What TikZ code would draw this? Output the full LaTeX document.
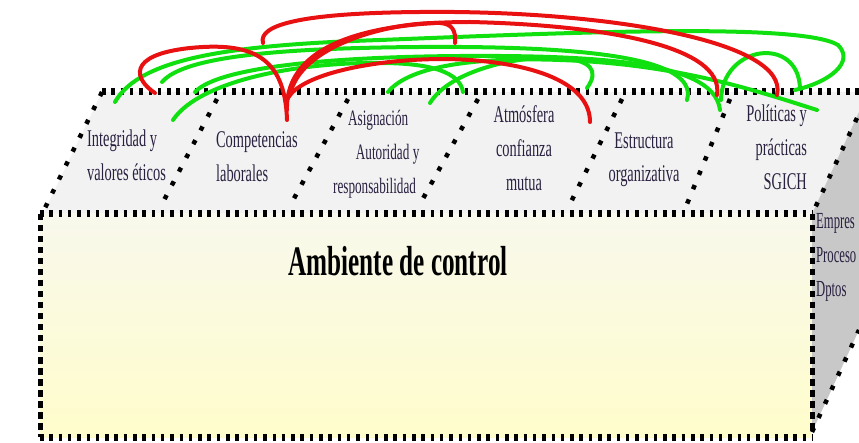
\documentclass[tikz,border=0pt]{standalone}
\usepackage{fontspec}
\setmainfont{Liberation Serif}
\usepackage{tikz}

\definecolor{facegrey}{HTML}{F2F2F2}
\definecolor{sidegrey}{HTML}{C8C8C8}
\definecolor{frontpale}{HTML}{F8F8EC}
\definecolor{frontyellow}{HTML}{FFFDCB}
\definecolor{arcred}{HTML}{E81010}
\definecolor{arcgreen}{HTML}{10E010}
\definecolor{labelink}{HTML}{2A2040}

\begin{document}
\begin{tikzpicture}[
  x=1pt, y=-1pt,
  hdots/.style={line width=7pt, dash pattern=on 3.5pt off 5.8pt},
  vdots/.style={line width=5pt, dash pattern=on 6.5pt off 4.5pt},
  ddots/.style={line width=4.5pt, dash pattern=on 4.5pt off 11pt},
  lbl/.style={inner sep=0pt, text=labelink, xscale=0.6,
              font=\fontsize{24}{34}\selectfont},
  rarc/.style={arcred, line width=4pt, line cap=round},
  garc/.style={arcgreen, line width=4pt, line cap=round}
]
  \useasboundingbox (0,0) rectangle (859,443);
  \clip (0,0) rectangle (859,443);
  % caras de la caja
  \fill[facegrey] (43,214) -- (102,92) -- (859,92) -- (859,112) -- (812,214) -- cycle;
  \fill[top color=frontpale, bottom color=frontyellow] (40,214) rectangle (812,437);
  \fill[sidegrey] (812,214) -- (859,112) -- (859,330) -- (812,432) -- cycle;
  % aristas punteadas
  \draw[hdots] (102,92) -- (859,92);
  \draw[hdots] (40,214) -- (812,214);
  \draw[hdots] (40,437) -- (812,437);
  \draw[vdots] (40,214) -- (40,437);
  \draw[vdots] (812,214) -- (812,432);
  \draw[ddots] (102,92) -- (43,212);
  \draw[ddots] (857,118) -- (815,208);
  \draw[ddots] (812,432) -- (859,330);
  \foreach \t/\b in {217/162, 348/291, 478/420, 622/570, 730/687}
    \draw[ddots] (\t,99) -- (\b,204);
  % componentes
  \node[lbl, anchor=north west, align=left] (integ) at (87,130) {Integridad y\\valores éticos};
  \node[lbl, anchor=north west, align=left] (compet) at (216,131) {Competencias\\laborales};
  \node[lbl, anchor=north west, align=left, font=\fontsize{22}{34}\selectfont] (asign) at (333,110)
    {\hspace*{25pt}Asignación\\\hspace*{38pt}Autoridad y\\responsabilidad};
  \node[lbl, anchor=north, align=center] (atmos) at (524,105) {Atmósfera\\confianza\\mutua};
  \node[lbl, anchor=north, align=center, font=\fontsize{24}{33}\selectfont] (estruc) at (644,133)
    {Estructura\\organizativa};
  \node[lbl, anchor=north east, align=right] (polit) at (807,105) {Políticas y\\prácticas\\SGICH};
  \node[lbl, anchor=north west, align=left, xscale=0.92, font=\fontsize{23}{34}\selectfont]
    (niveles) at (816,213) {Empres\\Proceso\\Dptos};
  \node[font=\bfseries\fontsize{42}{50}\selectfont, xscale=0.6, inner sep=0pt, anchor=base]
    (ambiente) at (398,276) {Ambiente de control};
  % relaciones verdes
  \draw[garc] (115,102) .. controls (140,58) and (230,45) .. (380,40)
    .. controls (560,33) and (800,22) .. (838,45) .. controls (855,62) and (830,82) .. (795,90);
  \draw[garc] (162,82) .. controls (185,55) and (290,48) .. (420,47)
    .. controls (570,46) and (700,55) .. (687,100);
  \draw[garc] (173,120) .. controls (200,80) and (300,62) .. (380,63)
    .. controls (430,63) and (460,72) .. (463,92);
  \draw[garc] (195,92) .. controls (220,65) and (350,55) .. (500,56)
    .. controls (640,57) and (715,70) .. (720,110);
  \draw[garc] (388,92) .. controls (410,65) and (480,57) .. (560,60)
    .. controls (680,64) and (760,92) .. (817,110);
  \draw[garc] (430,103) .. controls (450,70) and (520,55) .. (560,58)
    .. controls (590,60) and (600,70) .. (587,88);
  \draw[garc] (721,100) .. controls (722,45) and (798,35) .. (800,88);
  % relaciones rojas
  \draw[rarc] (155,93) .. controls (135,80) and (125,55) .. (190,48)
    .. controls (250,42) and (285,55) .. (287,120);
  \draw[rarc] (263,43) .. controls (258,25) and (300,13) .. (420,12)
    .. controls (600,10) and (790,40) .. (777,95);
  \draw[rarc] (287,110) .. controls (285,40) and (380,22) .. (470,22)
    .. controls (600,25) and (725,45) .. (717,95);
  \draw[rarc] (287,100) .. controls (300,70) and (400,55) .. (470,60)
    .. controls (540,65) and (590,85) .. (590,122);
  \draw[rarc] (290,95) .. controls (300,45) and (390,22) .. (440,23)
    .. controls (452,24) and (456,30) .. (455,43);
\end{tikzpicture}
\end{document}
